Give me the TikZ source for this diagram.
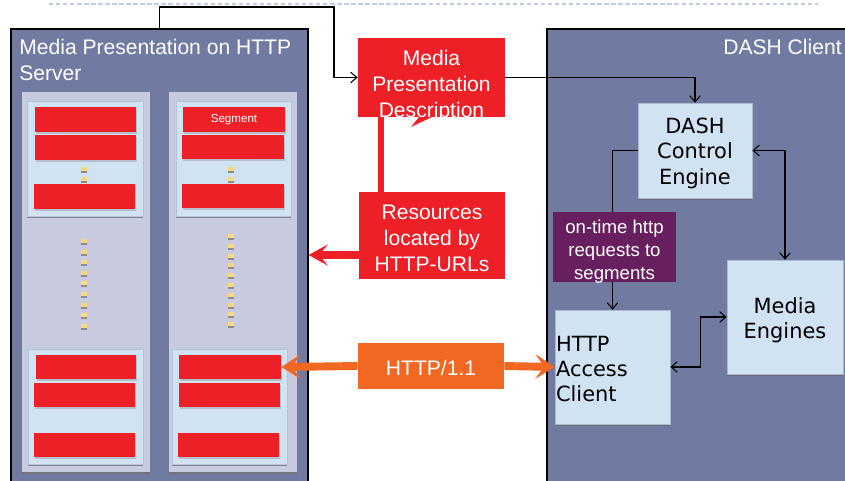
\documentclass[tikz,border=0pt]{standalone}
\usepackage{fontspec}
\setmainfont{Liberation Sans}
\newfontfamily\dejavu{DejaVu Sans}
\usetikzlibrary{arrows.meta,fit,shadows}

\definecolor{slate}{RGB}{113,122,160}
\definecolor{lavender}{RGB}{200,203,224}
\definecolor{paleblue}{RGB}{209,226,242}
\definecolor{segred}{RGB}{237,31,39}
\definecolor{httporange}{RGB}{242,103,34}
\definecolor{plum}{RGB}{104,31,96}
\definecolor{dashgray}{RGB}{190,206,226}
\definecolor{dotyellow}{RGB}{250,218,120}

\tikzset{
  panel/.style={draw=black, line width=0.6pt, fill=slate, inner sep=0pt},
  column/.style={fill=lavender, inner sep=0pt,
    drop shadow={shadow xshift=0pt, shadow yshift=-1.3pt, opacity=.8, fill=black!55}},
  group/.style={fill=paleblue, draw=paleblue!70!slate, line width=0.4pt, inner sep=0pt,
    drop shadow={shadow xshift=0pt, shadow yshift=-1.3pt, opacity=.8, fill=black!55}},
  seg/.style={fill=segred, inner sep=0pt,
    drop shadow={shadow xshift=0.3pt, shadow yshift=-1.2pt, opacity=.35}},
  wtext/.style={text=white, align=center, inner sep=0pt, font=\fontsize{12}{14.7}\selectfont},
  btext/.style={text=black, align=center, inner sep=0pt, font=\dejavu\fontsize{11.9}{14.4}\selectfont},
  flatbox/.style={inner sep=0pt},
  engine/.style={fill=paleblue, draw=paleblue!60!slate, line width=.4pt, inner sep=0pt,
    drop shadow={shadow xshift=0pt, shadow yshift=-1.3pt, opacity=.7, fill=black!60}},
  conn/.style={draw=black, line width=0.6pt, -{Straight Barb[length=3.5pt,width=6pt]}},
  dconn/.style={draw=black, line width=0.6pt,
    {Straight Barb[length=3.5pt,width=6pt]}-{Straight Barb[length=3.5pt,width=6pt]}},
  redpipe/.style={draw=segred, line width=3.8pt},
  redarrow/.style={draw=segred, line width=4pt, -{Stealth[length=11pt,width=12pt,inset=5pt]}},
  orangearrow/.style={draw=httporange, line width=4.5pt,
    -{Stealth[length=11pt,width=14pt,inset=5pt]}},
  blip/.pic={\fill[dotyellow] (-2.7,-3) rectangle (2.7,1);
             \fill[black!45] (-2.7,1) rectangle (2.7,3);}
}

\begin{document}
\begin{tikzpicture}[x=0.02cm, y=-0.02cm, line cap=butt, line join=miter]
  \useasboundingbox (0,0) rectangle (845,480);
  \clip (0,0) rectangle (845,480);

  % top rule
  \draw[dashgray, line width=1pt, dash pattern=on 2.5pt off 1.5pt] (49,4) -- (818,4);

  % --- server side ---
  \node[panel, fit={(11,29) (308,495)}] (srv) {};
  \node[wtext, align=left, anchor=north west] (srvtitle) at (19,39)
       {Media Presentation on HTTP\\Server};

  \node[column, fit={(22,92) (150,472)}] (col1) {};
  \node[column, fit={(169,92) (297,472)}] (col2) {};

  \node[group, fit={(27,101) (143,216)}] (g11) {};
  \node[group, fit={(176,101) (291,216)}] (g12) {};
  \node[group, fit={(28,349) (143,464)}] (g21) {};
  \node[group, fit={(172,349) (287,464)}] (g22) {};

  % segments
  \foreach \n/\xa/\ya/\xb/\yb in {
      b11a/35/107/136/132, b11b/35/135/136/160, b11c/34/184/135/209,
      b12a/183/107/285/132, b12b/182/135/284/159, b12c/182/184/284/208,
      b21a/36/355/136/379, b21b/34/383/135/407, b21c/34/433/135/457,
      b22a/179/355/281/379, b22b/179/383/280/407, b22c/178/433/279/457}
    \node[seg, fit={(\xa,\ya) (\xb,\yb)}] (\n) {};
  \node[wtext, font=\fontsize{6.6}{8}\selectfont] (segtext) at (b12a.center) {Segment};

  % dots
  \foreach \x in {84,231}
    \foreach \y in {170,180}
      \pic at (\x,\y) {blip};
  \foreach \k in {0,...,8}
    \pic at (84,{242+10.6*\k}) {blip};
  \foreach \k in {0,...,9}
    \pic at (231,{237+9.8*\k}) {blip};

  % --- middle boxes ---
  \node[flatbox, fill=segred, fit={(358,38) (505,117)}] (mpd) {};
  \node[wtext] (mpdtext) at ([yshift=-4.8pt]mpd.center)
       {Media\\Presentation\\Description};
  \fill[segred] (411,127) -- (419,117) -- (432,117) -- cycle;

  \node[flatbox, fill=segred, fit={(359,192) (505,279)}] (res) {};
  \node[wtext] (restext) at ([yshift=-1.5pt]res.center) {Resources\\located by\\HTTP-URLs};

  \node[flatbox, fill=httporange, fit={(358,343) (504,389)}] (http) {};
  \node[wtext] (httptext) at ([yshift=-1.3pt]http.center) {HTTP/1.1};

  % --- client side ---
  \node[panel, fit={(547,29) (870,495)}] (cli) {};
  \node[wtext, anchor=north east] (clititle) at (842,39) {DASH Client};

  \node[engine, fit={(638,103) (752,198)}] (dce) {};
  \node[btext] (dcetext) at ([yshift=-1.5pt]dce.center) {DASH\\Control\\Engine};
  \node[engine, fit={(727,260) (843,374)}] (me) {};
  \node[btext] (metext) at ([yshift=-2pt]me.center) {Media\\Engines};
  \node[engine, fit={(555,310) (670,424)}] (hac) {};
  \node[btext, align=left, anchor=west] (hactext) at ([xshift=0.6pt,yshift=-1.2pt]hac.west)
       {HTTP\\Access\\Client};

  % connectors
  \coordinate (bend) at (334,7);
  \coordinate (rx) at (381,0);
  \coordinate (ry) at (0,255);
  \draw[conn] (srv.north) |- (bend) |- (mpd.west);
  \draw[conn] (mpd.east) -| (dce.north);
  \draw[conn] (dce.west) -| (hac.north);
  \draw[dconn] (dce.east) -| (me.north);
  \draw[dconn] (hac.east) -- ++(30,0) |- (me.west);

  \node[flatbox, fill=plum, fit={(553,212) (676,282)}] (req) {};
  \node[wtext, font=\fontsize{10.6}{13}\selectfont] (reqtext)
       at ([yshift=-2.8pt]req.center) {on-time http\\requests to\\segments};

  \draw[redpipe] (rx |- mpd.south) -- (rx |- res.north);
  \draw[redarrow] (res.west |- ry) -- (srv.east |- ry);
  \draw[orangearrow] (http.west) -- (b22a.east);
  \draw[orangearrow] (http.east) -- (hac.west);
\end{tikzpicture}
\end{document}
